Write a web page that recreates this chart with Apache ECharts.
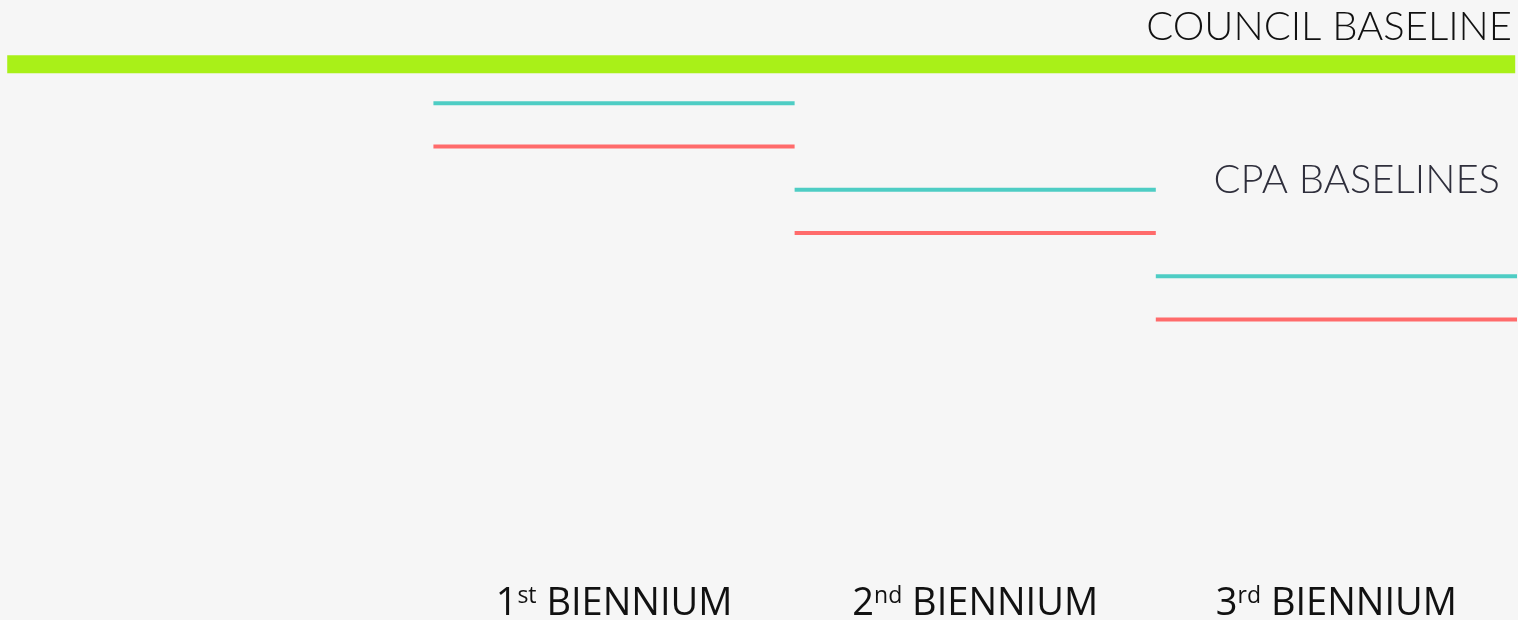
<!DOCTYPE html>
<html>
<head>
<meta charset="utf-8">
<script src="https://cdn.jsdelivr.net/npm/echarts@6/dist/echarts.min.js"></script>
<style>
  html, body { margin: 0; padding: 0; background: #f6f6f6; }
  #chart { width: 1518px; height: 620px; }
</style>
</head>
<body>
<div id="chart"></div>
<script>
// biennium periods, x in "biennium units"
const periodNums = ['1', '2', '3'];
const periodSups = ['st', 'nd', 'rd'];
const periodStart = [1.2, 2.2, 3.2];
const periodEnd = [2.2, 3.2, 4.2];
// baseline levels
const councilSpan = [0.02, 4.195];
const councilLevel = 10;
const cpaUpper = [9.1, 7.1, 5.1];
const cpaLower = [8.1, 6.1, 4.1];

const chart = echarts.init(document.getElementById('chart'));

const segSeries = (levels, color) => levels.map((v, i) => ({
    type: 'line',
    symbol: 'none',
    silent: true,
    lineStyle: { color, width: 4, cap: 'butt' },
    data: [[periodStart[i], v], [periodEnd[i], v]]
}));

const option = {
    backgroundColor: '#f6f6f6',
    animation: false,
    title: [
        {
            text: 'COUNCIL BASELINE',
            right: 1, top: 2,
            textStyle: { fontFamily: 'Lato', fontWeight: 300, fontSize: 40, color: '#111111' }
        },
        {
            text: 'CPA BASELINES',
            right: 13, top: 155,
            textStyle: { fontFamily: 'Lato', fontWeight: 300, fontSize: 40, color: '#2f2f3c' }
        }
    ],
    grid: { left: 0, right: 1, top: 21, bottom: 123, outerBoundsMode: 'none', containLabel: false },
    xAxis: {
        type: 'value',
        min: 0,
        max: 4.2,
        axisLine: { show: false },
        axisTick: { show: false },
        splitLine: { show: false },
        axisLabel: {
            customValues: periodStart.map((s, i) => (s + periodEnd[i]) / 2),
            margin: 88,
            formatter: (val) => {
                const i = periodStart.findIndex((s, k) => Math.abs((s + periodEnd[k]) / 2 - val) < 0.01);
                if (i < 0) return '';
                return '{num|' + periodNums[i] + '}{sup|' + periodSups[i] + '}{txt| BIENNIUM}';
            },
            rich: {
                num: { fontFamily: 'Open Sans', fontSize: 38, color: '#111111' },
                sup: { fontFamily: 'Open Sans', fontSize: 23, color: '#111111', verticalAlign: 'top' },
                txt: { fontFamily: 'Open Sans', fontSize: 38, color: '#111111' }
            }
        }
    },
    yAxis: {
        type: 'value',
        min: 0,
        max: 11,
        show: false
    },
    series: [
        {
            type: 'line',
            symbol: 'none',
            silent: true,
            lineStyle: { color: '#a9f018', width: 18, cap: 'butt' },
            data: [[councilSpan[0], councilLevel], [councilSpan[1], councilLevel]]
        },
        ...segSeries(cpaUpper, '#4ecdc4'),
        ...segSeries(cpaLower, '#ff6b6b')
    ]
};

chart.setOption(option);
</script>
</body>
</html>
